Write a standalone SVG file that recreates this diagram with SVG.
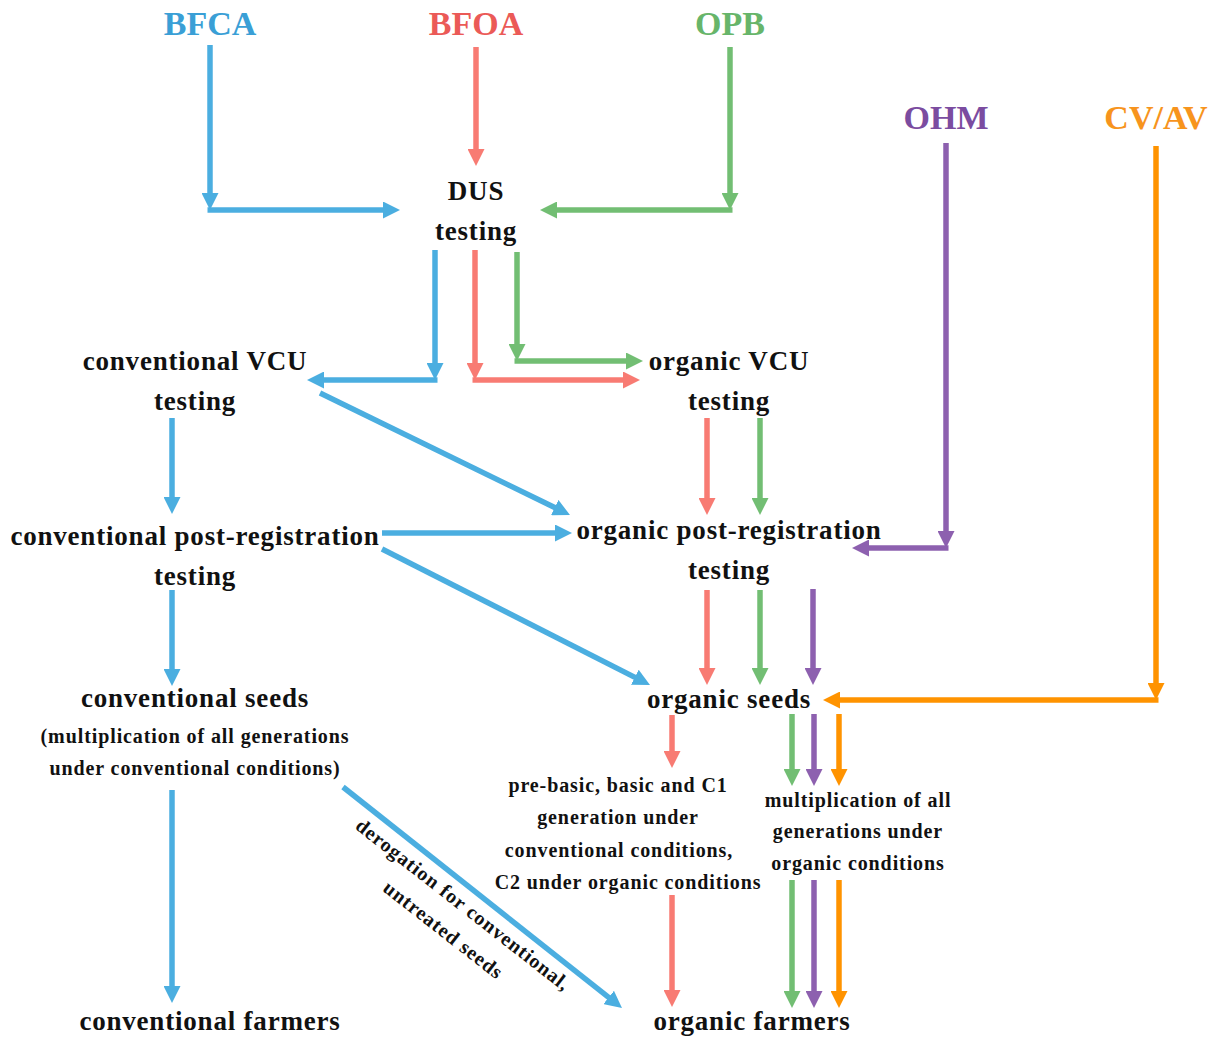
<svg xmlns="http://www.w3.org/2000/svg" width="1219" height="1039" viewBox="0 0 1219 1039">
  <style>
    .src { font-family: "Liberation Serif", "Times New Roman", serif; font-weight: bold; font-size: 34px; text-anchor: middle; }
    .lbl { font-family: "Liberation Serif", "Times New Roman", serif; font-weight: bold; font-size: 27px; letter-spacing: 0.8px; text-anchor: middle; fill: #111; }
    .sm { font-family: "Liberation Serif", "Times New Roman", serif; font-weight: bold; font-size: 20px; letter-spacing: 0.9px; text-anchor: middle; fill: #111; }
    .c { fill: none; stroke-width: 5.5; stroke-linecap: butt; }
    .blue { stroke: #4BAEE0; marker-end: url(#hb); }
    .red { stroke: #F87B73; marker-end: url(#hr); }
    .green { stroke: #72BE73; marker-end: url(#hg); }
    .purple { stroke: #8D60AF; marker-end: url(#hp); }
    .orange { stroke: #FF9300; marker-end: url(#ho); }
  </style>
  <defs>
    <marker id="hb" markerUnits="userSpaceOnUse" markerWidth="17" markerHeight="17" refX="4" refY="8.5" orient="auto"><path d="M0,0 L17,8.5 L0,17 z" fill="#4BAEE0"/></marker>
    <marker id="hr" markerUnits="userSpaceOnUse" markerWidth="17" markerHeight="17" refX="4" refY="8.5" orient="auto"><path d="M0,0 L17,8.5 L0,17 z" fill="#F87B73"/></marker>
    <marker id="hg" markerUnits="userSpaceOnUse" markerWidth="17" markerHeight="17" refX="4" refY="8.5" orient="auto"><path d="M0,0 L17,8.5 L0,17 z" fill="#72BE73"/></marker>
    <marker id="hp" markerUnits="userSpaceOnUse" markerWidth="17" markerHeight="17" refX="4" refY="8.5" orient="auto"><path d="M0,0 L17,8.5 L0,17 z" fill="#8D60AF"/></marker>
    <marker id="ho" markerUnits="userSpaceOnUse" markerWidth="17" markerHeight="17" refX="4" refY="8.5" orient="auto"><path d="M0,0 L17,8.5 L0,17 z" fill="#FF9300"/></marker>
  </defs>
  <rect width="1219" height="1039" fill="#fff"/>

  <!-- source nodes -->
  <g id="bfca"><text class="src" x="210" y="35" fill="#3A9FD6">BFCA</text></g>
  <g id="bfoa"><text class="src" x="476" y="35" fill="#EB5A57">BFOA</text></g>
  <g id="opb"><text class="src" x="730" y="35" fill="#67B56A">OPB</text></g>
  <g id="ohm"><text class="src" x="946" y="129" fill="#7B4CA0">OHM</text></g>
  <g id="cvav"><text class="src" x="1156" y="129" fill="#F7941D">CV/AV</text></g>

  <!-- process nodes -->
  <g id="dus"><text class="lbl" x="476" y="200">DUS</text><text class="lbl" x="476" y="240">testing</text></g>
  <g id="conv-vcu"><text class="lbl" x="195" y="370">conventional VCU</text><text class="lbl" x="195" y="410">testing</text></g>
  <g id="org-vcu"><text class="lbl" x="729" y="370">organic VCU</text><text class="lbl" x="729" y="410">testing</text></g>
  <g id="conv-post"><text class="lbl" x="195" y="545">conventional post-registration</text><text class="lbl" x="195" y="585">testing</text></g>
  <g id="org-post"><text class="lbl" x="729" y="539">organic post-registration</text><text class="lbl" x="729" y="579">testing</text></g>
  <g id="conv-seeds">
    <text class="lbl" x="195" y="707">conventional seeds</text>
    <text class="sm" x="195" y="743">(multiplication of all generations</text>
    <text class="sm" x="195" y="775">under conventional conditions)</text>
  </g>
  <g id="org-seeds"><text class="lbl" x="729" y="708">organic seeds</text></g>
  <g id="pre-basic">
    <text class="sm" x="618" y="792">pre-basic, basic and C1</text>
    <text class="sm" x="618" y="824">generation under</text>
    <text class="sm" x="619" y="857">conventional conditions,</text>
    <text class="sm" x="628" y="889">C2 under organic conditions</text>
  </g>
  <g id="multiplication">
    <text class="sm" x="858" y="807">multiplication of all</text>
    <text class="sm" x="858" y="838">generations under</text>
    <text class="sm" x="858" y="870">organic conditions</text>
  </g>
  <g id="conv-farmers"><text class="lbl" x="210" y="1030">conventional farmers</text></g>
  <g id="org-farmers"><text class="lbl" x="752" y="1030">organic farmers</text></g>

  <!-- connectors -->
  <g id="connectors">
    <!-- blue: conventional route -->
    <path class="c blue" d="M210,45 V197"/>
    <path class="c blue" d="M207.5,210 H387"/>
    <path class="c blue" d="M435,250 V367"/>
    <path class="c blue" d="M437.5,380 H320"/>
    <path class="c blue" d="M172,418 V501"/>
    <path class="c blue" d="M320,393 L558.3,509.3"/>
    <path class="c blue" d="M382,533 H559"/>
    <path class="c blue" d="M382,549 L638.4,679.1"/>
    <path class="c blue" d="M172,590 V673"/>
    <path class="c blue" d="M172,790 V990"/>
    <path class="c blue" d="M343,787 L611.8,999.9"/>

    <!-- red -->
    <path class="c red" d="M476,47 V153"/>
    <path class="c red" d="M475,250 V367"/>
    <path class="c red" d="M472.5,380 H627"/>
    <path class="c red" d="M707,418 V502"/>
    <path class="c red" d="M707,590 V672"/>
    <path class="c red" d="M672,715 V755"/>
    <path class="c red" d="M672,895 V994"/>

    <!-- green -->
    <path class="c green" d="M730,47 V197"/>
    <path class="c green" d="M732.5,210 H553"/>
    <path class="c green" d="M517,252 V348"/>
    <path class="c green" d="M514.5,361 H630"/>
    <path class="c green" d="M760,418 V502"/>
    <path class="c green" d="M760,590 V672"/>
    <path class="c green" d="M792,714 V773"/>
    <path class="c green" d="M792,880 V995"/>

    <!-- purple -->
    <path class="c purple" d="M946,143 V535"/>
    <path class="c purple" d="M948.5,548 H865"/>
    <path class="c purple" d="M813,589 V672"/>
    <path class="c purple" d="M814,714 V773"/>
    <path class="c purple" d="M814,880 V995"/>

    <!-- orange -->
    <path class="c orange" d="M1156,146 V687"/>
    <path class="c orange" d="M1158.5,700 H836"/>
    <path class="c orange" d="M839,714 V773"/>
    <path class="c orange" d="M839,880 V995"/>

    <!-- label along the derogation arrow -->
    <g transform="translate(459,910) rotate(38)">
      <text class="sm" x="0" y="0">derogation for conventional,</text>
      <text class="sm" x="0" y="32">untreated seeds</text>
    </g>
  </g>
</svg>
